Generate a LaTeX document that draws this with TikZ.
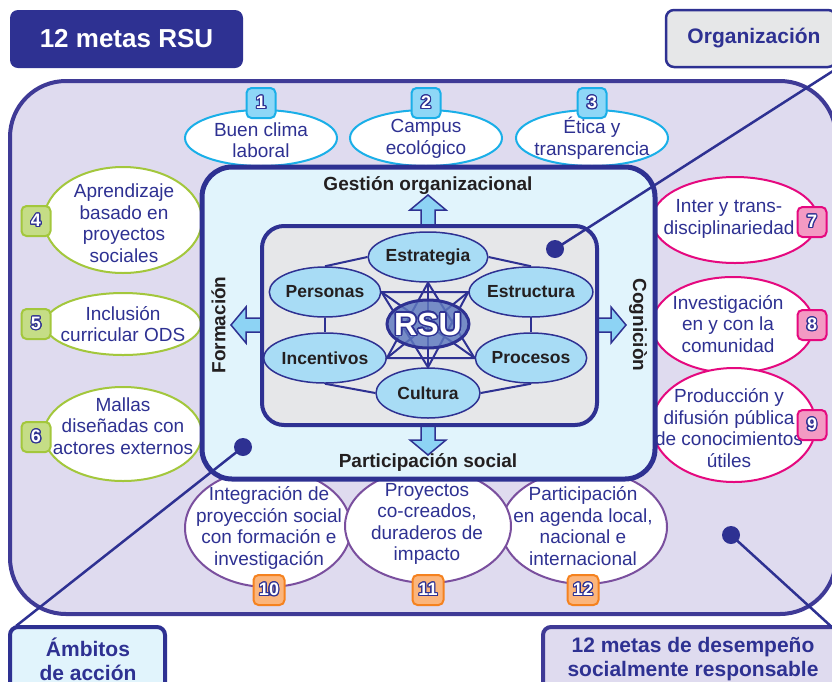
\documentclass[tikz,border=0pt]{standalone}
\usepackage{fontspec}
\setmainfont{Liberation Sans}
\usepackage{contour}
\contourlength{1.1pt}
\usetikzlibrary{shapes.geometric}
\definecolor{dblue}{HTML}{2E3192}
\definecolor{bigborder}{HTML}{3F3A96}
\definecolor{lav}{HTML}{DFDBEF}
\definecolor{midfill}{HTML}{E1F4FC}
\definecolor{innerfill}{HTML}{E6E7E9}
\definecolor{ovfill}{HTML}{A8DCF5}
\definecolor{arrfill}{HTML}{8DD3F4}
\definecolor{rsufill}{HTML}{5E78BF}
\definecolor{cyanb}{HTML}{1AAFE8}
\definecolor{cyanf}{HTML}{8ED7F7}
\definecolor{greenb}{HTML}{A3C73C}
\definecolor{greenf}{HTML}{C5DD86}
\definecolor{magb}{HTML}{E5097F}
\definecolor{magf}{HTML}{F39AC3}
\definecolor{purb}{HTML}{7A4F9E}
\definecolor{orab}{HTML}{F5821F}
\definecolor{oraf}{HTML}{FBB57C}
\definecolor{lbl}{HTML}{231F20}
\definecolor{orgfill}{HTML}{E6E7E8}
\begin{document}
\begin{tikzpicture}[x=1pt,y=-1pt,
  goal/.style={ellipse, draw, fill=white, line width=2pt, inner sep=0pt},
  goaltext/.style={text=dblue, align=center, font=\fontsize{19}{21.5}\selectfont, inner sep=0pt},
  badge/.style={rounded corners=5pt, draw, line width=2pt, minimum width=29pt, minimum height=30pt, inner sep=0pt, text=white, font=\fontsize{18}{18}\selectfont\bfseries},
  facet/.style={ellipse, draw=dblue, fill=ovfill, line width=1.5pt, minimum width=104pt, minimum height=50pt, inner sep=0pt, font=\fontsize{17.5}{18}\selectfont\bfseries, text=lbl},
  blockarrow/.style={draw=dblue, fill=arrfill, line width=1.5pt, line join=miter},
  link/.style={draw=dblue, line width=2.5pt},
  starline/.style={draw=dblue, line width=2pt},
  dotmark/.style={circle, fill=dblue, minimum size=18pt, inner sep=0pt},
  lbltext/.style={text=lbl, inner sep=0pt, font=\fontsize{19}{21}\selectfont\bfseries},
  boxtext/.style={text=dblue, align=center, inner sep=0pt, font=\fontsize{21}{24}\selectfont\bfseries}]
\useasboundingbox (0,0) rectangle (832,681);
\clip (0,0) rectangle (832,681);

% big lavender box
\draw[draw=bigborder, fill=lav, line width=4pt, rounded corners=56pt] (10,81) rectangle (836,614);

% outer goal ellipses
\node[goal, draw=cyanb, minimum width=152pt, minimum height=56pt] (e1) at (261,138) {};
\node[goal, draw=cyanb, minimum width=152pt, minimum height=56pt] (e2) at (426,138) {};
\node[goal, draw=cyanb, minimum width=152pt, minimum height=56pt] (e3) at (592,138) {};
\node[goal, draw=greenb, minimum width=158pt, minimum height=106pt] (e4) at (123,220) {};
\node[goal, draw=greenb, minimum width=156pt, minimum height=62pt] (e5) at (123,324) {};
\node[goal, draw=greenb, minimum width=158pt, minimum height=94pt] (e6) at (123,434) {};
\node[goal, draw=magb, minimum width=166pt, minimum height=86pt] (e7) at (735,220) {};
\node[goal, draw=magb, minimum width=162pt, minimum height=96pt] (e8) at (733,325) {};
\node[goal, draw=magb, minimum width=164pt, minimum height=114pt] (e9) at (734,425) {};
\node[goal, draw=purb, minimum width=166pt, minimum height=118pt] (e10) at (268,528) {};
\node[goal, draw=purb, minimum width=166pt, minimum height=114pt] (e12) at (584,527) {};
\node[goal, draw=purb, minimum width=166pt, minimum height=114pt] (e11) at (428,526) {};

\node[goaltext] (t1) at (261,140) {Buen clima\\laboral};
\node[goaltext] (t2) at (426,139) {Campus\\ecológico};
\node[goaltext] (t3) at (592,138) {Ética y\\transparencia};
\node[goaltext] (t4) at (124,223) {Aprendizaje\\basado en\\proyectos\\sociales};
\node[goaltext] (t5) at (123,324) {Inclusión\\curricular ODS};
\node[goaltext] (t6) at (123,426) {Mallas\\diseñadas con\\actores externos};
\node[goaltext] (t7) at (729,219) {Inter y trans-\\disciplinariedad};
\node[goaltext] (t8) at (728,324) {Investigación\\en y con la\\comunidad};
\node[goaltext] (t9) at (729,428) {Producción y\\difusión pública\\de conocimientos\\útiles};
\node[goaltext] (t10) at (269,528) {Integración de\\proyección social\\con formación e\\investigación};
\node[goaltext] (t11) at (427,524) {Proyectos\\co-creados,\\duraderos de\\impacto};
\node[goaltext] (t12) at (583,526) {Participación\\en agenda local,\\nacional e\\internacional};

% middle box
\node[draw=dblue, fill=midfill, line width=5pt, rounded corners=30pt, minimum width=453pt, minimum height=312pt, inner sep=0pt] (mid) at (428.5,323) {};

% block arrows
\draw[blockarrow] (421,228) -- (421,210) -- (410,210) -- (428,195) -- (446,210) -- (435,210) -- (435,228) -- cycle;
\draw[blockarrow] (421,423) -- (421,440) -- (410,440) -- (428,455) -- (446,440) -- (435,440) -- (435,423) -- cycle;
\draw[blockarrow] (264,318) -- (246,318) -- (246,307) -- (231,325) -- (246,343) -- (246,332) -- (264,332) -- cycle;
\draw[blockarrow] (595,318) -- (611,318) -- (611,307) -- (626,325) -- (611,343) -- (611,332) -- (595,332) -- cycle;

% inner box
\node[draw=dblue, fill=innerfill, line width=4pt, rounded corners=22pt, minimum width=335pt, minimum height=199pt, inner sep=0pt] (inner) at (429.5,325.5) {};

% facets
\node[facet] (estr) at (428,257) {Estrategia};
\node[facet] (pers) at (325,292) {Personas};
\node[facet] (estc) at (531,292) {Estructura};
\node[facet] (ince) at (325,358) {Incentivos};
\node[facet] (proc) at (531,358) {Procesos};
\node[facet] (cult) at (428,393) {Cultura};

\draw[starline] (estr.west) -- (pers.north);
\draw[starline] (estr.east) -- (estc.north);
\draw[starline] (cult.west) -- (ince.south);
\draw[starline] (cult.east) -- (proc.south);
\draw[starline] (pers.south) -- (ince.north);
\draw[starline] (estc.south) -- (proc.north);
\draw[starline] (estr.south) -- (ince.east) -- (proc.west) -- cycle;
\draw[starline] (cult.north) -- (pers.east) -- (estc.west) -- cycle;
\draw[starline] (estr.south) -- (cult.north);
\draw[starline] (pers.east) -- (proc.west);
\draw[starline] (estc.west) -- (ince.east);

\node[ellipse, draw=dblue, fill=rsufill, fill opacity=0.82, line width=3pt, minimum width=82pt, minimum height=48pt, inner sep=0pt] (rsu) at (428,324) {};
\node[text=white, inner sep=0pt, font=\fontsize{32}{32}\selectfont\bfseries] (rsutext) at (428,325) {\contourlength{1.5pt}\contour{dblue}{RSU}};

% labels of the middle box
\node[lbltext] (gest) at (428,185.5) {Gestión organizacional};
\node[lbltext] (part) at (428,462.5) {Participación social};
\node[lbltext, rotate=90] (form) at (218.5,325) {Formación};
\node[lbltext, rotate=-90] (cogn) at (638,325) {Cogniciòn};

% badges
\node[badge, draw=cyanb, fill=cyanf] (b1) at (261,103) {\contour{dblue}{1}};
\node[badge, draw=cyanb, fill=cyanf] (b2) at (426,103) {\contour{dblue}{2}};
\node[badge, draw=cyanb, fill=cyanf] (b3) at (592,103) {\contour{dblue}{3}};
\node[badge, draw=greenb, fill=greenf] (b4) at (36,221) {\contour{dblue}{4}};
\node[badge, draw=greenb, fill=greenf] (b5) at (36,324) {\contour{dblue}{5}};
\node[badge, draw=greenb, fill=greenf] (b6) at (36,437) {\contour{dblue}{6}};
\node[badge, draw=magb, fill=magf] (b7) at (812,222) {\contour{dblue}{7}};
\node[badge, draw=magb, fill=magf] (b8) at (812,325) {\contour{dblue}{8}};
\node[badge, draw=magb, fill=magf] (b9) at (812,425) {\contour{dblue}{9}};
\node[badge, draw=orab, fill=oraf, minimum width=31pt] (b10) at (269,590) {\contour{dblue}{10}};
\node[badge, draw=orab, fill=oraf, minimum width=31pt] (b11) at (428,590) {\contour{dblue}{11}};
\node[badge, draw=orab, fill=oraf, minimum width=31pt] (b12) at (583,590) {\contour{dblue}{12}};

% title and legend boxes
\node[fill=dblue, rounded corners=8pt, minimum width=233pt, minimum height=58pt, inner sep=0pt, text=white, font=\fontsize{26}{26}\selectfont\bfseries] (title) at (126.5,39) {12 metas RSU};
\node[draw=dblue, fill=orgfill, line width=2.5pt, rounded corners=8pt, minimum width=170pt, minimum height=57pt, inner sep=0pt] (org) at (751,38.5) {};
\node[boxtext] (orgtext) at (754,38) {Organización};
\node[draw=dblue, fill=midfill, line width=4pt, rounded corners=8pt, minimum width=155pt, minimum height=73pt, inner sep=0pt] (amb) at (87.5,663.5) {};
\node[boxtext] (ambtext) at (88,659) {Ámbitos\\de acción};
\node[draw=bigborder, fill=lav, line width=4pt, rounded corners=8pt, minimum width=317pt, minimum height=73pt, inner sep=0pt] (meta) at (701.5,663.5) {};
\node[boxtext] (metatext) at (693,659) {12 metas de desempeño\\socialmente responsable};

% pointer lines and dots
\node[dotmark] (dot1) at (555,249) {};
\node[dotmark] (dot2) at (243,447) {};
\node[dotmark] (dot3) at (731,535) {};
\coordinate (ambtip) at (16,626);
\coordinate (metatip) at (834,629);
\draw[link] (org.south east) -- (dot1.center);
\draw[link] (dot2.center) -- (ambtip);
\draw[link] (dot3.center) -- (metatip);
\end{tikzpicture}
\end{document}
